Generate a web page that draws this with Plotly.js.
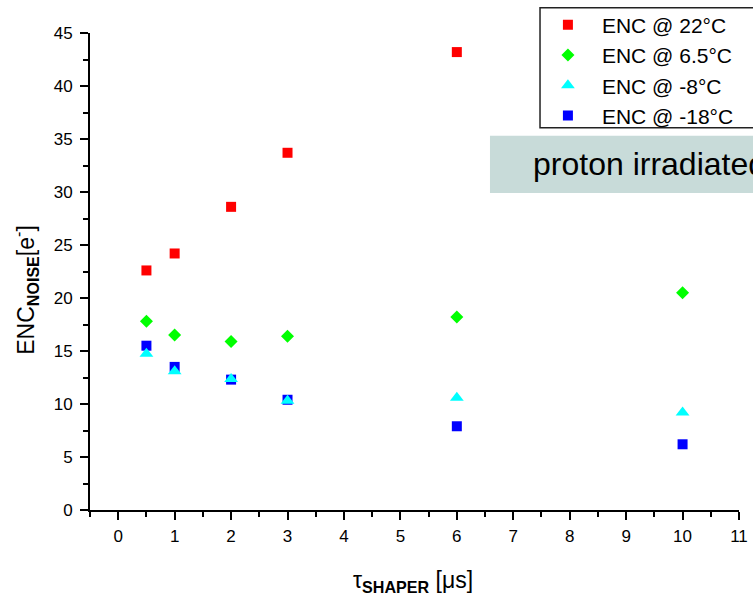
<!DOCTYPE html>
<html><head><meta charset="utf-8">
<script src="https://cdn.plot.ly/plotly-3.0.1.min.js"></script>
<style>html,body{margin:0;padding:0;background:#fff;} #chart{width:753px;height:596px;}</style>
</head><body><div id="chart"></div>
<script>
// shaping times [µs]
const tau22 = [0.5, 1, 2, 3, 6];
const tauAll = [0.5, 1, 2, 3, 6, 10];
// ENC noise [e-]
const enc22C  = [22.6, 24.2, 28.6, 33.7, 43.2];
const enc6p5C = [17.8, 16.5, 15.9, 16.4, 18.2, 20.5];
const encM8C  = [14.75, 13.1, 12.35, 10.3, 10.6, 9.2];
const encM18C = [15.5, 13.5, 12.3, 10.4, 7.9, 6.2];
const seriesNames = ['ENC @ 22°C', 'ENC @ 6.5°C', 'ENC @ -8°C', 'ENC @ -18°C'];

const FONT = 'Liberation Sans, Arial, sans-serif';

// drawing order: -18°C below -8°C (triangles on top), legend order kept via legendrank
const traces = [
  {x: tau22, y: enc22C, name: seriesNames[0], legendrank: 1, type: 'scatter', mode: 'markers',
   marker: {symbol: 'square', size: 10, color: '#ff0000'}},
  {x: tauAll, y: enc6p5C, name: seriesNames[1], legendrank: 2, type: 'scatter', mode: 'markers',
   marker: {symbol: 'diamond', size: 10, color: '#00ff00'}},
  {x: tauAll, y: encM18C, name: seriesNames[3], legendrank: 4, type: 'scatter', mode: 'markers',
   marker: {symbol: 'square', size: 10, color: '#0000ff'}},
  {x: tauAll, y: encM8C, name: seriesNames[2], legendrank: 3, type: 'scatter', mode: 'markers',
   marker: {symbol: 'triangle-up', size: 12, color: '#00ffff'}}
];

const layout = {
  width: 753, height: 596,
  margin: {l: 90, r: 14, t: 33, b: 86, autoexpand: false},
  paper_bgcolor: '#ffffff', plot_bgcolor: '#ffffff',
  font: {family: FONT, color: '#000', size: 17},
  showlegend: true,
  legend: {
    x: 0.684, y: 1.0596, xanchor: 'left', yanchor: 'top',
    bgcolor: 'rgba(0,0,0,0)', borderwidth: 0, itemwidth: 58,
    font: {family: FONT, size: 21, color: '#000'},
    traceorder: 'normal'
  },
  xaxis: {
    range: [-0.5, 11], dtick: 1, tick0: 0,
    showline: true, linecolor: '#000', linewidth: 2,
    ticks: 'outside', ticklen: 8, tickwidth: 2, tickcolor: '#000',
    minor: {dtick: 0.5, tick0: 0, ticks: 'outside', ticklen: 5, tickwidth: 2, tickcolor: '#000'},
    showgrid: false, zeroline: false, ticklabelstandoff: 2,
    tickfont: {family: FONT, size: 17, color: '#000'}
  },
  yaxis: {
    range: [0, 45], dtick: 5, tick0: 0,
    showline: true, linecolor: '#000', linewidth: 2,
    ticks: 'outside', ticklen: 8, tickwidth: 2, tickcolor: '#000',
    minor: {dtick: 2.5, tick0: 0, ticks: 'outside', ticklen: 5, tickwidth: 2, tickcolor: '#000'},
    showgrid: false, zeroline: false, ticklabelstandoff: 4,
    tickfont: {family: FONT, size: 17, color: '#000'}
  },
  shapes: [
    {type: 'rect', xref: 'paper', yref: 'paper', x0: 0.6934, x1: 1.05, y0: 0.8013, y1: 1.0531,
     line: {color: '#222', width: 1.5}, fillcolor: 'rgba(0,0,0,0)', layer: 'above'},
    {type: 'rect', xref: 'paper', yref: 'paper', x0: 0.6163, x1: 1.05, y0: 0.6644, y1: 0.7846,
     line: {width: 0}, fillcolor: '#c8dbd9', layer: 'below'}
  ],
  annotations: [
    {text: 'proton irradiated', xref: 'paper', yref: 'paper', x: 0.6795, y: 0.7248,
     xanchor: 'left', yanchor: 'middle', showarrow: false,
     font: {family: FONT, size: 32, color: '#000'}},
    {text: 'τ<sub><b>SHAPER</b></sub> [μs]', xref: 'paper', yref: 'paper', x: 0.4977, y: -0.149,
     xanchor: 'center', yanchor: 'middle', showarrow: false,
     font: {family: FONT, size: 23, color: '#000'}},
    {text: 'ENC<sub><b>NOISE</b></sub>[e<sup>-</sup>]', xref: 'paper', yref: 'paper', x: -0.1002, y: 0.4616,
     xanchor: 'center', yanchor: 'middle', textangle: -90, showarrow: false,
     font: {family: FONT, size: 23, color: '#000'}}
  ]
};

Plotly.newPlot('chart', traces, layout, {displayModeBar: false, staticPlot: true});
</script>
</body></html>
